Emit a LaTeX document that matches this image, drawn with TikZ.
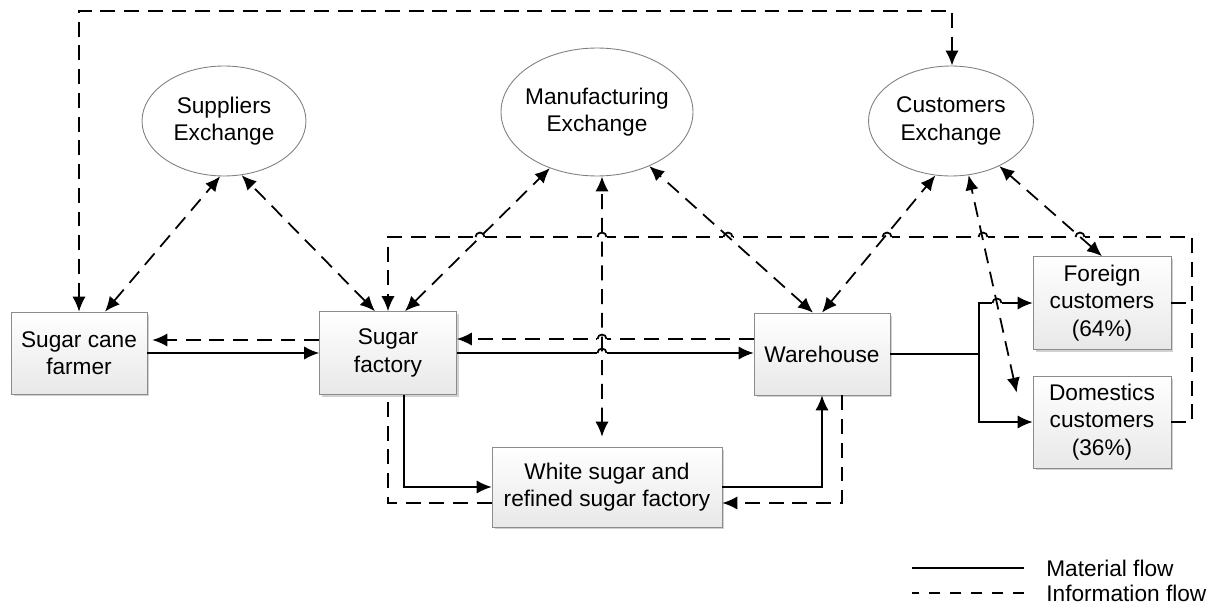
\documentclass[tikz,border=0pt]{standalone}
\usepackage{fontspec}
\setmainfont{Liberation Sans}
\usetikzlibrary{arrows.meta,shadows,shapes.geometric}

\newcommand{\chartfont}{\fontsize{12.9}{15.6}\selectfont}
% small line jump where a horizontal flow crosses another line
\newcommand{\hop}[2]{%
  \fill [white] (#1-5,#2-2) rectangle (#1+5,#2+2);
  \draw [line width=1pt] (#1-4.5,#2) arc [start angle=180, end angle=0, radius=0.09cm];
}

\begin{document}
\begin{tikzpicture}[x=0.02cm, y=-0.02cm, font=\chartfont,
    box/.style={draw=black!45, top color=white, bottom color=black!9,
      drop shadow={shadow xshift=0.05cm, shadow yshift=-0.05cm, fill=black!30, opacity=0.6},
      align=center, inner sep=0pt},
    exch/.style={ellipse, draw=black!50, line width=0.5pt, fill=white, align=center, inner sep=0pt},
    mat/.style={line width=1pt},
    info/.style={line width=1pt, dash pattern=on 8.5pt off 5pt},
    >={Latex[length=8.5pt,width=7.5pt]}]
  \useasboundingbox (0,0) rectangle (1214,612);

  % boxes
  \node [box, minimum width=2.72cm, minimum height=1.64cm] (farmer) at (79,353) {Sugar cane\\farmer};
  \node [box, minimum width=2.74cm, minimum height=1.66cm] (factory) at (388,353) {Sugar\\factory};
  \node [box, minimum width=2.72cm, minimum height=1.64cm] (house) at (822,354) {Warehouse};
  \node [box, minimum width=4.6cm, minimum height=1.6cm] (white) at (607,487) {White sugar and\\refined sugar factory};
  \node [box, minimum width=2.76cm, minimum height=1.86cm] (foreign) at (1102,303) {Foreign\\customers\\(64\%)};
  \node [box, minimum width=2.76cm, minimum height=1.84cm] (domestic) at (1102,422) {Domestics\\customers\\(36\%)};

  % exchanges
  \node [exch, minimum width=3.28cm, minimum height=2.2cm] (supex) at (224,121) {Suppliers\\Exchange};
  \node [exch, minimum width=3.84cm, minimum height=2.56cm, inner xsep=-0.08cm] (manex) at (597,112) {Manufacturing\\Exchange};
  \node [exch, minimum width=3.3cm, minimum height=2.2cm] (cusex) at (951,121) {Customers\\Exchange};

  % material flow
  \draw [mat, ->] (farmer.east) -- (factory.west);
  \draw [mat, ->] (factory.east) -- (factory.east -| house.west);
  \draw [mat, ->] ([xshift=0.32cm]factory.south) |- (white.west);
  \draw [mat, ->] (white.east) -| (house.south);
  \coordinate (split) at (979,354);
  \draw [mat] (house.east) -- (split);
  \draw [mat, ->] (split) |- (foreign.west);
  \draw [mat, ->] (split) |- (domestic.west);

  % information flow
  \draw [info, ->] ([yshift=0.26cm]factory.west) -- ([yshift=0.26cm, xshift=0.1cm]farmer.east);
  \draw [info, ->] ([yshift=0.3cm]house.west) -- ([yshift=0.3cm]house.west -| factory.east);
  \draw [info, ->] ([xshift=0.4cm]house.south) |- ([yshift=-0.32cm]white.east);
  \draw [info] ([yshift=-0.32cm]white.west) -| (factory.south);
  \draw [info] (foreign.east) -- ++(21,0);
  \draw [info, ->] (domestic.east) -- ++(21,0) -- ++(0,-185) -| (factory.north);
  \draw [info, <->] (farmer.north) -- ++(0,-301) -| ([xshift=0.02cm]cusex.north);

  \hop{480}{237} \hop{602}{237} \hop{728}{237} \hop{887}{237} \hop{983}{237} \hop{1080}{237}
  \hop{602}{339} \hop{602}{353} \hop{997}{303}

  \draw [info, <->] ([xshift=0.52cm]farmer.north) -- (supex.-94);
  \draw [info, <->] ([xshift=-0.26cm]factory.north) -- (supex.-72);
  \draw [info, <->] ([xshift=0.34cm]factory.north) -- (manex.-130);
  \draw [info, <->] ([xshift=-0.1cm, yshift=0.2cm]white.north) -- ([xshift=0.1cm]manex.south);
  \draw [info, <->] ([xshift=-0.18cm]house.north) -- (manex.-46);
  \draw [info, <->] (house.north) -- (cusex.-106);
  \draw [info, <->] ([xshift=-0.32cm, yshift=-0.34cm]domestic.north west) -- (cusex.-72);
  \draw [info, <->] (foreign.north) -- (cusex.-43);

  % legend
  \node [anchor=west, inner sep=0pt] (matlabel) at (1046,568) {Material flow};
  \node [anchor=west, inner sep=0pt] (infolabel) at (1046,593) {Information flow};
  \draw [mat] ([xshift=-0.44cm]matlabel.west) -- ++(-112,0);
  \draw [line width=1pt, dash pattern=on 6.2pt off 5.7pt] ([xshift=-0.44cm]infolabel.west) -- ++(-112,0);
\end{tikzpicture}
\end{document}
